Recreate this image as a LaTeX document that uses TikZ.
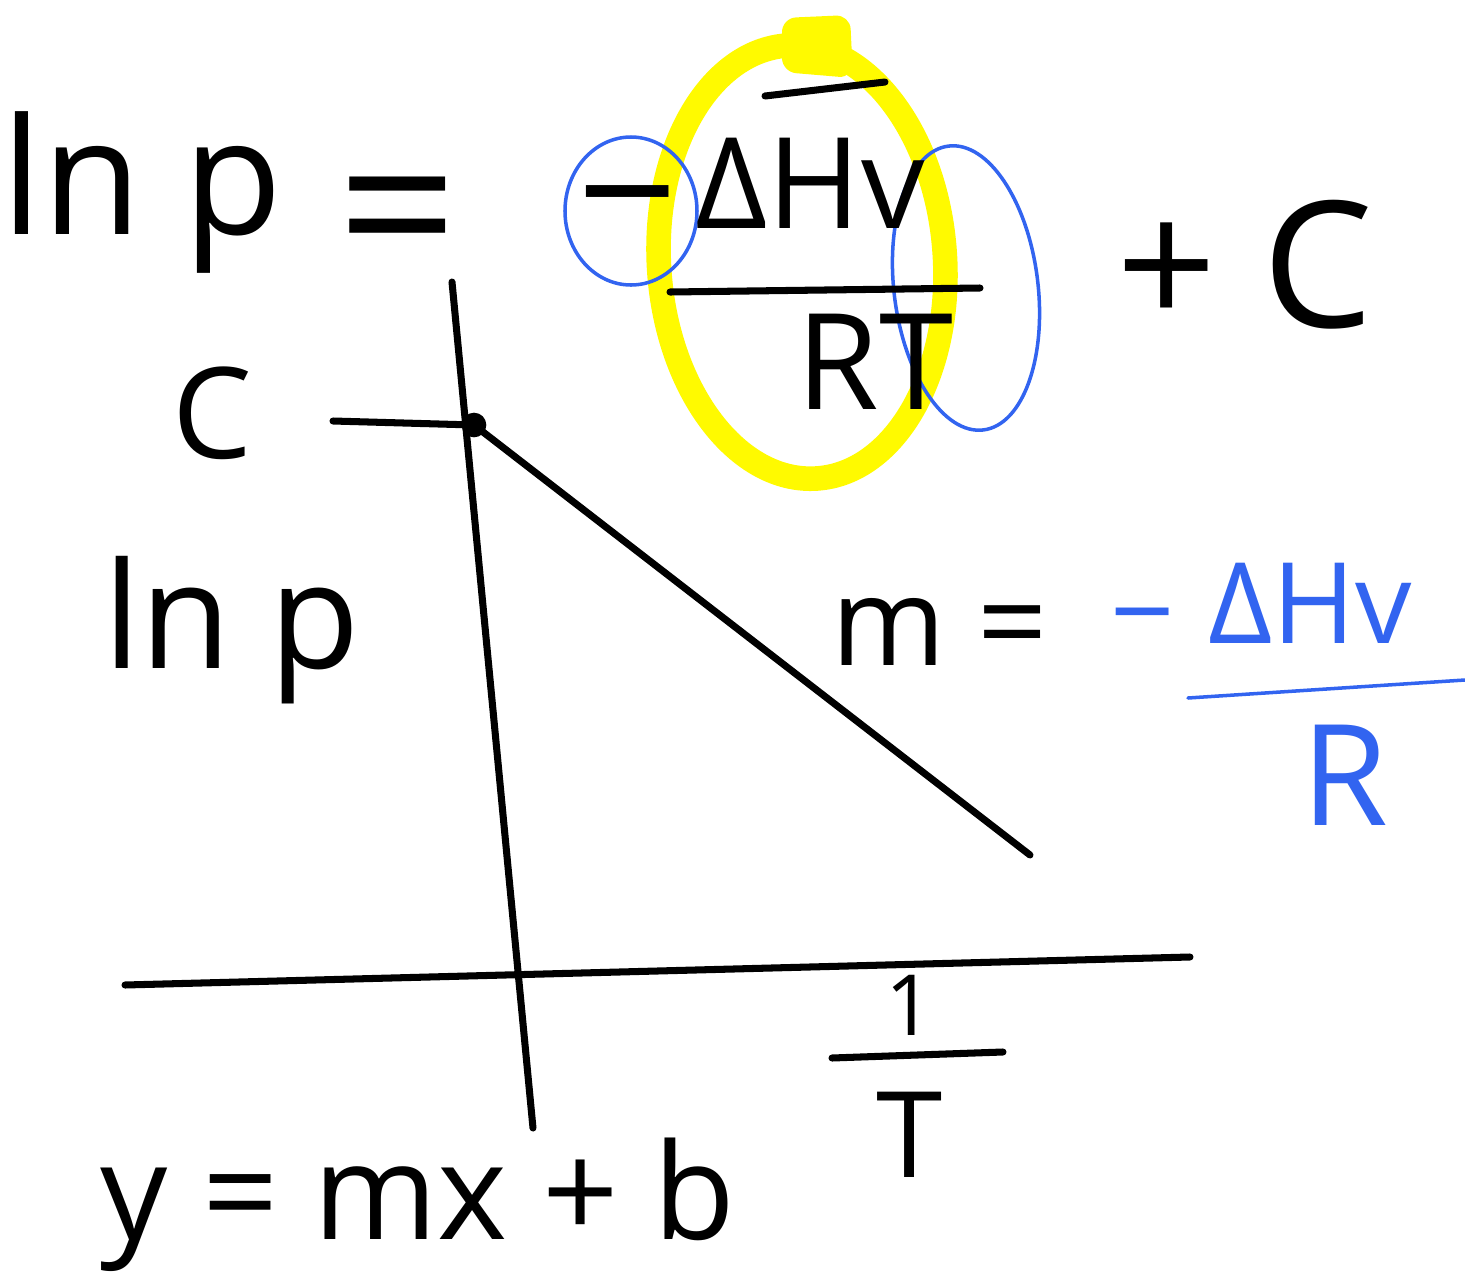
\documentclass[tikz,border=0pt]{standalone}
\usepackage{fontspec}
\setmainfont{Open Sans}
\usepackage{tikz}
\usetikzlibrary{calc}

\definecolor{penblue}{RGB}{50,100,240}
\definecolor{hilite}{RGB}{255,250,0}

\begin{document}
\begin{tikzpicture}[
  x=0.01cm, y=-0.01cm,
  pen/.style={line width=2pt, line cap=round, line join=round},
  bluepen/.style={line width=1pt, penblue, line cap=round},
  marker/.style={line width=7pt, hilite},
  txt/.style={inner sep=0pt, font=\fontsize{#1}{#1}\selectfont},
  bluetxt/.style={txt=#1, text=penblue},
]
\useasboundingbox (0,0) rectangle (1465,1272);

% highlight and circles (behind the text)
\fill[hilite, rounded corners=4pt] (782,18) -- (850,15) -- (853,78) -- (782,72) -- cycle;
\draw[marker] (802,262) ellipse [x radius=143, y radius=217, rotate=4];
\draw[bluepen] (631,211) ellipse [x radius=66, y radius=74];
\draw[bluepen] (966,288) ellipse [x radius=72, y radius=143, rotate=7];

% equation
\node[txt=46] (lnp) at (142,192) {ln p};
\node[txt=60] (eq) at (398,228) {=};
\node[txt=50] (neg) at (628,220) {−};
\node[txt=36] (dH) at (810,183) {ΔHv};
\node[txt=38] (RT) at (875,362) {RT};
\node[txt=50] (plusC) at (1245,265) {+ C};
\draw[pen] (765,96) -- (885,82);
\draw[pen] (670,292) -- (980,288);

% axes
\coordinate (ytop) at (452,282);
\coordinate (ybot) at (533,1128);
\coordinate (xl) at (125,985);
\coordinate (xr) at (1190,957);
\draw[pen] (ytop) -- (ybot);
\draw[pen] (xl) -- (xr);

% intercept and line
\node[txt=36] (Clbl) at (212,413) {C};
\node[circle, fill, inner sep=0pt, minimum size=7pt] (dot) at (474,425) {};
\coordinate (tick) at (333,421);
\coordinate (lend) at (1030,855);
\draw[pen] (tick) -- (dot.center);
\draw[pen] (dot.center) -- (lend);

\node[txt=42] (ylbl) at (232,630) {ln p};
\node[txt=24] (one) at (910,1005) {1};
\node[txt=34] (T) at (910,1135) {T};
\draw[pen] (832,1058) -- (1003,1052);

% slope
\node[txt=35] (m) at (940,632) {m =};
\node[bluetxt=32] (bneg) at (1143,630) {−};
\node[bluetxt=32] (bdH) at (1310,603) {ΔHv};
\node[bluetxt=40] (bR) at (1345,775) {R};
\draw[bluepen] (1188,698) -- (1465,680);

\node[txt=38] (ymxb) at (418,1205) {y = mx + b};
\end{tikzpicture}
\end{document}
